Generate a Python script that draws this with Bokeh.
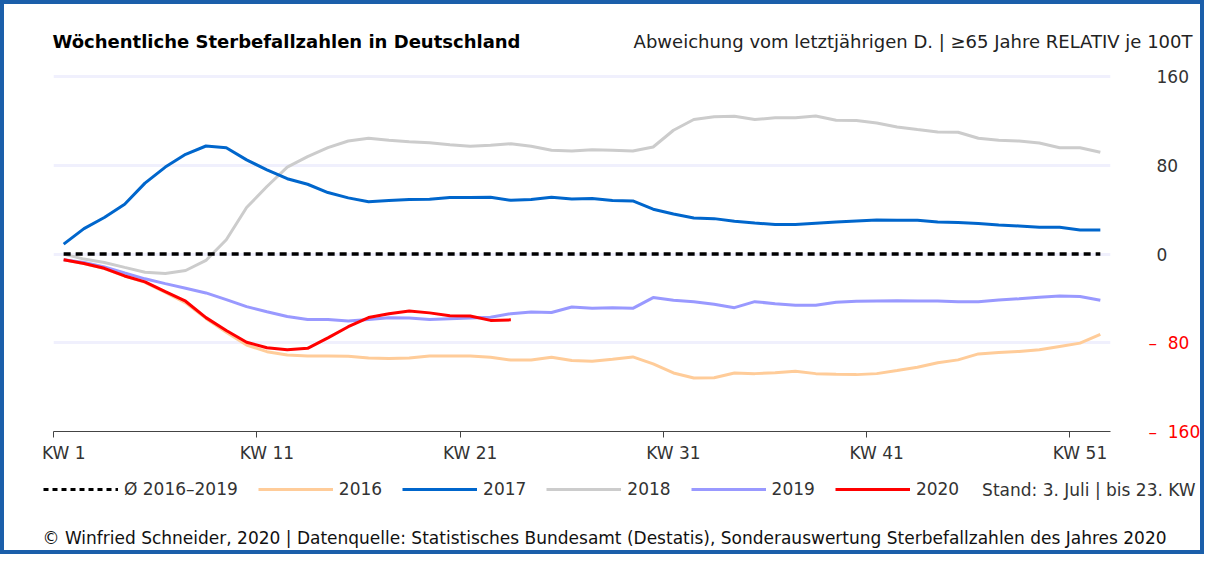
from bokeh.plotting import figure
from bokeh.layouts import column
from bokeh.models import Range1d, FixedTicker, Label, Legend, LegendItem, LinearAxis
from bokeh.embed import file_html
from bokeh.resources import INLINE

# ---------------- data ----------------
weeks = list(range(1, 53))
weeks_2020 = list(range(1, 24))

avg_2016_2019 = [0] * 52

y2016 = [-5, -8.5, -13, -19.8, -25.5, -34.5, -44, -58, -70.5, -82, -88, -91, -91.8, -92, -92.2,
         -93.8, -94.2, -93.6, -91.8, -91.8, -91.8, -93, -95.6, -95.6, -93, -96, -96.6, -94.8,
         -92.7, -99, -107.2, -111.7, -111.5, -107.2, -107.8, -106.9, -105.7, -107.8, -108.4,
         -108.7, -107.8, -105, -102, -98, -95.4, -90, -88.8, -87.8, -86.3, -83.3, -80.3, -72.5]

y2017 = [9, 23, 33, 45, 64, 78.5, 90, 97.5, 96, 85, 76, 68, 63, 55.5, 50.7, 47.3, 48.3, 49.2,
         49.5, 51, 51, 51.3, 48.5, 49.3, 51.3, 49.8, 50.1, 48.3, 48, 40.5, 36.2, 32.6, 32, 29.6,
         28, 26.6, 26.6, 27.8, 29, 29.9, 30.8, 30.5, 30.5, 29, 28.4, 27.5, 26.3, 25.4, 24.2,
         24.2, 21.7, 21.7]

y2018 = [0, -4.5, -7.5, -12, -16.3, -17.5, -14.8, -5.7, 13, 42, 61, 78.5, 88, 96, 102, 104.5,
         102.6, 101.4, 100.5, 98.7, 97.2, 98.2, 99.6, 97.2, 93.6, 93, 94.2, 93.6, 93, 96.6,
         111.7, 121.4, 123.8, 124.4, 121.4, 122.9, 122.9, 124.5, 120.8, 120.5, 118.3, 114.7,
         112.3, 110.2, 109.9, 104.5, 102.6, 102, 100.2, 96, 96, 91.8]

y2019 = [-5, -7.5, -11.5, -17, -22.3, -26.6, -30.8, -35, -41, -47.4, -52, -56.2, -58.9, -59,
         -60.4, -59, -57.4, -57.6, -59, -58.3, -57.7, -57, -53.7, -52.2, -52.7, -47.7, -48.9,
         -48.3, -48.9, -39.2, -41.7, -42.9, -45.3, -48.3, -42.9, -44.7, -46.2, -46.2, -43.5,
         -42.6, -42.3, -42, -42.3, -42.3, -42.9, -42.9, -41.5, -40.3, -39, -37.7, -38.3, -41.7]

y2020 = [-5.1, -8.5, -12.8, -19.7, -25, -33.8, -42.5, -57.3, -68.9, -79.5, -84.5, -86.2, -85,
         -75.5, -65.5, -57.2, -53.8, -51.3, -53, -55.6, -55.8, -59.8, -59.3]

kw_ticks = [1, 11, 21, 31, 41, 51]
kw_labels = ["KW 1", "KW 11", "KW 21", "KW 31", "KW 41", "KW 51"]
kw_edges = [0.5, 10.5, 20.5, 30.5, 40.5, 50.5]
y_ticks_pos = [0, 80, 160]
y_labels_pos = ["0", "80", "160"]
y_ticks_neg = [-80, -160]
y_labels_neg = ["–\u00a0\u00a080", "–\u00a0\u00a0160"]
grid_ticks = [-80, 0, 80, 160]

series_labels = ["Ø 2016–2019", "2016", "2017", "2018", "2019", "2020"]
series_colors = ["black", "#ffcc99", "#0066cc", "#cccccc", "#9999ff", "#ff0000"]

title_text = "Wöchentliche Sterbefallzahlen in Deutschland"
subtitle_text = "Abweichung vom letztjährigen D. | ≥65 Jahre RELATIV je 100T"
stand_text = "Stand: 3. Juli | bis 23. KW"
footer_text = ("© Winfried Schneider, 2020 | Datenquelle: Statistisches Bundesamt (Destatis), "
               "Sonderauswertung Sterbefallzahlen des Jahres 2020")

FONT = "DejaVu Sans"
FS = "17px"
FS_TITLE = "18px"
TXT = "#333333"
BLUE = "#1b5faa"
W = 1204
BORDER = f"4px solid {BLUE}"


def blank_fig(h, border_css, xr=(0, 1), yr=(0, 1)):
    f = figure(width=W, height=h, output_backend="svg", toolbar_location=None,
               x_range=Range1d(*xr), y_range=Range1d(*yr),
               x_axis_location=None, y_axis_location=None,
               min_border=0, frame_align=False)
    f.grid.visible = False
    f.outline_line_color = None
    f.background_fill_color = "white"
    f.border_fill_color = "white"
    f.styles = border_css
    return f


# ---------------- top: titles ----------------
top = blank_fig(64, {"border-top": BORDER, "border-left": BORDER, "border-right": BORDER})
top.add_layout(Label(x=48, y=27, x_units="screen", y_units="screen", text=title_text,
                     text_font=FONT, text_font_size=FS_TITLE, text_font_style="bold",
                     text_color="black", text_baseline="middle", text_align="left"))
top.add_layout(Label(x=1188, y=27, x_units="screen", y_units="screen", text=subtitle_text,
                     text_font=FONT, text_font_size=FS_TITLE, text_color="#222222",
                     text_baseline="middle", text_align="right"))

# ---------------- main chart ----------------
p = figure(width=W, height=406, output_backend="svg", toolbar_location=None,
           x_range=Range1d(0.5, 52.5), y_range=Range1d(-160, 162),
           y_axis_location="right", frame_align=False,
           min_border_left=49, min_border_right=98, min_border_top=10, min_border_bottom=39)
p.styles = {"border-left": BORDER, "border-right": BORDER}
p.outline_line_color = None
p.background_fill_color = "white"
p.border_fill_color = "white"

p.xgrid.grid_line_color = None
p.ygrid.ticker = FixedTicker(ticks=grid_ticks)
p.ygrid.grid_line_color = "#f0f0fd"
p.ygrid.grid_line_width = 3

xa = p.xaxis[0]
xa.ticker = FixedTicker(ticks=kw_ticks, minor_ticks=kw_edges)
xa.major_label_overrides = {t: l for t, l in zip(kw_ticks, kw_labels)}
xa.major_tick_line_color = None
xa.major_tick_out = 0
xa.major_tick_in = 0
xa.minor_tick_line_color = "#444444"
xa.minor_tick_out = 6
xa.minor_tick_in = 0
xa.axis_line_color = "#444444"
xa.major_label_standoff = 5
xa.major_label_text_font = FONT
xa.major_label_text_font_size = FS
xa.major_label_text_color = TXT

ya = p.yaxis[0]
ya.ticker = FixedTicker(ticks=y_ticks_pos)
ya.major_label_overrides = {t: l for t, l in zip(y_ticks_pos, y_labels_pos)}
ya.axis_line_color = None
ya.major_tick_line_color = None
ya.minor_tick_line_color = None
ya.major_tick_out = 0
ya.major_tick_in = 0
ya.major_label_standoff = 46
ya.major_label_text_font = FONT
ya.major_label_text_font_size = FS
ya.major_label_text_color = TXT

ya2 = LinearAxis(ticker=FixedTicker(ticks=y_ticks_neg),
                 major_label_overrides={t: l for t, l in zip(y_ticks_neg, y_labels_neg)},
                 axis_line_color=None, major_tick_line_color=None, minor_tick_line_color=None,
                 major_tick_out=0, major_tick_in=0, major_label_standoff=-43,
                 major_label_text_font=FONT, major_label_text_font_size=FS,
                 major_label_text_color="red")
p.add_layout(ya2, "right")

p.line(weeks, y2016, line_color=series_colors[1], line_width=3)
p.line(weeks, y2019, line_color=series_colors[4], line_width=3)
p.line(weeks, y2018, line_color=series_colors[3], line_width=3)
p.line(weeks, y2017, line_color=series_colors[2], line_width=3)
p.line(weeks, avg_2016_2019, line_color=series_colors[0], line_width=3.5, line_dash="7 5")
p.line(weeks_2020, y2020, line_color=series_colors[5], line_width=3)

# ---------------- bottom: legend + footer ----------------
# legend proxies: same series, kept outside this panel's visible range
bot = blank_fig(84, {"border-bottom": BORDER, "border-left": BORDER, "border-right": BORDER},
                xr=(-20, -10), yr=(-300, -200))
series_for_legend = [(weeks, avg_2016_2019), (weeks, y2016), (weeks, y2017),
                     (weeks, y2018), (weeks, y2019), (weeks_2020, y2020)]
items = []
for i, (lab, col, (xs, ys)) in enumerate(zip(series_labels, series_colors, series_for_legend)):
    if i == 0:
        r = bot.line(xs, ys, line_color=col, line_width=3, line_dash="5 4")
    else:
        r = bot.line(xs, ys, line_color=col, line_width=3)
    items.append(LegendItem(label=lab, renderers=[r]))
legend = Legend(items=items, orientation="horizontal", location=(39, 55),
                glyph_width=75, glyph_height=20, label_height=20, label_standoff=6, spacing=20,
                padding=0, margin=0, border_line_color=None, background_fill_alpha=0,
                label_text_font=FONT, label_text_font_size=FS, label_text_color=TXT)
bot.add_layout(legend)
bot.add_layout(Label(x=977.6, y=65, x_units="screen", y_units="screen", text=stand_text,
                     text_font=FONT, text_font_size=FS, text_color=TXT,
                     text_baseline="middle", text_align="left"))
bot.add_layout(Label(x=38, y=17, x_units="screen", y_units="screen", text=footer_text,
                     text_font=FONT, text_font_size=FS, text_color="#111111",
                     text_baseline="middle", text_align="left"))

layout = column(top, p, bot, spacing=0)
open("out.html", "w").write(file_html(layout, INLINE))
